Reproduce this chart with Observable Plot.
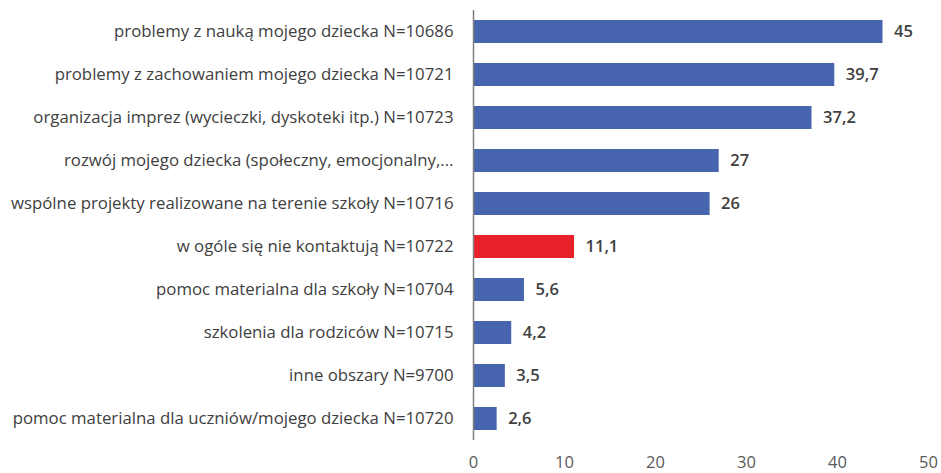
<!DOCTYPE html>
<html><head><meta charset="utf-8">
<script src="https://cdn.jsdelivr.net/npm/d3@7"></script>
<script src="https://cdn.jsdelivr.net/npm/@observablehq/plot@0.6"></script>
<style>body{margin:0;background:#fff}</style>
</head><body><div id="chart"></div>
<script>
const categories = [
  "problemy z nauką mojego dziecka N=10686",
  "problemy z zachowaniem mojego dziecka N=10721",
  "organizacja imprez (wycieczki, dyskoteki itp.) N=10723",
  "rozwój mojego dziecka (społeczny, emocjonalny,...",
  "wspólne projekty realizowane na terenie szkoły N=10716",
  "w ogóle się nie kontaktują N=10722",
  "pomoc materialna dla szkoły N=10704",
  "szkolenia dla rodziców N=10715",
  "inne obszary N=9700",
  "pomoc materialna dla uczniów/mojego dziecka N=10720"
];
const values = [45, 39.7, 37.2, 27, 26, 11.1, 5.6, 4.2, 3.5, 2.6];
const highlighted = "w ogóle się nie kontaktują N=10722";
const xTicks = [0, 10, 20, 30, 40, 50];

const data = categories.map((c, i) => ({category: c, value: values[i]}));
const fmt = v => String(v).replace(".", ",");

const chart = Plot.plot({
  width: 941,
  height: 473,
  marginTop: 10,
  marginBottom: 33,
  marginLeft: 473,
  marginRight: 13,
  style: {fontFamily: "'Open Sans', Lato, sans-serif", fontSize: "16.5px", color: "#404040"},
  x: {domain: [0, 50], ticks: xTicks, label: null, tickSize: 0, tickPadding: 16},
  y: {domain: categories, label: null, paddingInner: 0.47, paddingOuter: 0.235, tickSize: 0, tickPadding: 20},
  marks: [
    Plot.barX(data, {x: "value", y: "category", fill: d => d.category === highlighted ? "#E8202A" : "#4764AE"}),
    Plot.text(data, {x: "value", y: "category", text: d => fmt(d.value), textAnchor: "start", dx: 11, fontSize: 16.5, fontWeight: 600, fill: "#404040"}),
    Plot.ruleX([0], {stroke: "#7f7f7f", strokeWidth: 1.5}),
    Plot.ruleY([0], {stroke: "#7f7f7f", strokeWidth: 1.5}),
    Plot.axisX({ticks: xTicks, tickSize: 0, tickPadding: 16, fontSize: 16.5, fill: "#595959", label: null}),
    Plot.axisY({tickSize: 0, tickPadding: 20, fontSize: 16.8, fill: "#404040", label: null, textOverflow: null})
  ]
});
document.getElementById("chart").appendChild(chart);
</script>
</body></html>
